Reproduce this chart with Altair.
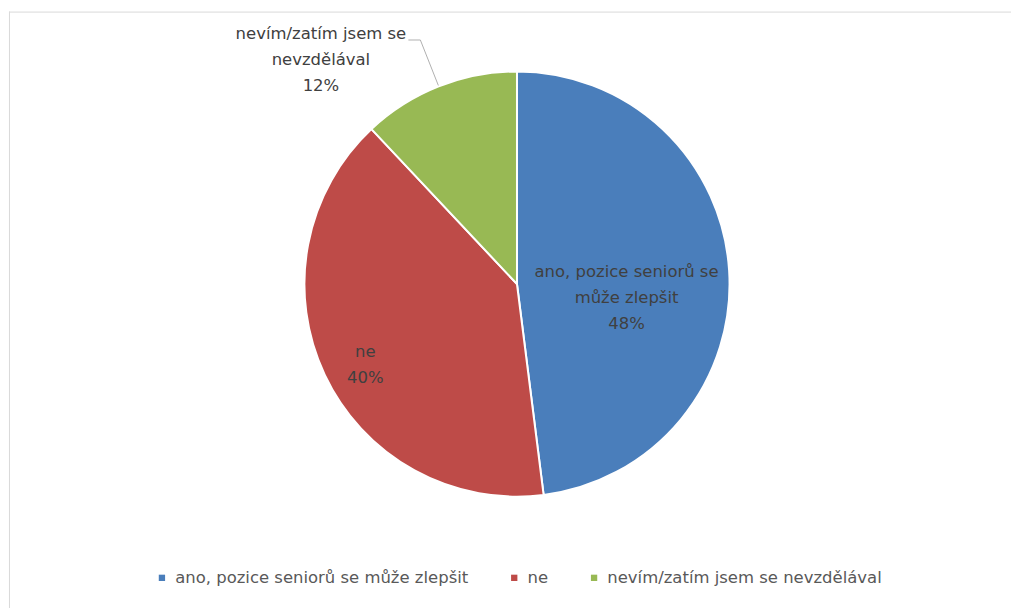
import altair as alt
import pandas as pd
import numpy as np

# ---- data ----
categories = ["ano, pozice seniorů se může zlepšit", "ne", "nevím/zatím jsem se nevzdělával"]
shares = [48, 40, 12]
label_text = ["ano, pozice seniorů se\nmůže zlepšit", "ne", "nevím/zatím jsem se\nnevzdělával"]

# ---- styling ----
colors = ["#4a7ebb", "#be4b48", "#98b954"]
FONT = "DejaVu Sans"
FS = 16.5
LH = 26
W, H = 1004, 598
CX, CY, R = 509, 273, 213
LABEL_R = [110, 168, 262]
LABEL_OFF = [(0, 21), (0, 10), (-100, 19)]

total = float(sum(shares))
cum = np.cumsum(shares)
mid = (cum - np.array(shares) / 2.0) / total * 2 * np.pi

df = pd.DataFrame({"cat": categories, "value": shares, "order": list(range(len(shares)))})
df["label"] = [f"{t}\n{v}%" for t, v in zip(label_text, shares)]
nlines = [s.count("\n") + 1 for s in df["label"]]
df["lx"] = [CX + r * np.sin(m) + o[0] for r, m, o in zip(LABEL_R, mid, LABEL_OFF)]
df["ly"] = [CY - r * np.cos(m) + o[1] - (n - 1) * LH / 2.0
            for r, m, o, n in zip(LABEL_R, mid, LABEL_OFF, nlines)]

# leader line for the outside label (last slice)
m = mid[-1]
lead = pd.DataFrame({
    "x": [CX + (R + 1) * np.sin(m), CX + (R + 50) * np.sin(m)],
    "y": [CY - (R + 1) * np.cos(m), CY - (R + 50) * np.cos(m)],
    "x2": [CX + (R + 50) * np.sin(m), CX + (R + 50) * np.sin(m) - 12],
    "y2": [CY - (R + 50) * np.cos(m), CY - (R + 50) * np.cos(m)],
})

color_scale = alt.Scale(domain=categories, range=colors)

pie = alt.Chart(df).mark_arc(radius=R, stroke="white", strokeWidth=2).encode(
    theta=alt.Theta("value:Q", stack=True),
    order=alt.Order("order:Q"),
    color=alt.Color("cat:N", scale=color_scale, sort=categories,
                    legend=alt.Legend(title=None, orient="none", legendX=145, legendY=559,
                                      direction="horizontal", symbolType="square",
                                      symbolSize=40, symbolStrokeWidth=0,
                                      columnPadding=37, labelOffset=5,
                                      labelFontSize=FS, labelFont=FONT,
                                      labelColor="#595959", labelLimit=450)),
    x=alt.value(CX), y=alt.value(CY),
)

labels = alt.Chart(df).mark_text(
    font=FONT, fontSize=FS, color="#404040", lineBreak="\n", lineHeight=LH,
    align="center", baseline="middle",
).encode(
    x=alt.X("lx:Q", scale=None), y=alt.Y("ly:Q", scale=None), text="label:N"
)

leader = alt.Chart(lead).mark_rule(color="#b0b0b0", strokeWidth=1).encode(
    x=alt.X("x:Q", scale=None), y=alt.Y("y:Q", scale=None),
    x2="x2:Q", y2="y2:Q",
)

frame_top = alt.Chart(pd.DataFrame({"a": [0]})).mark_rule(color="#d9d9d9", strokeWidth=1).encode(
    x=alt.value(0), x2=alt.value(W), y=alt.value(0.5))
frame_left = alt.Chart(pd.DataFrame({"a": [0]})).mark_rule(color="#d9d9d9", strokeWidth=1).encode(
    x=alt.value(0.5), y=alt.value(0), y2=alt.value(H))

chart = alt.layer(frame_top, frame_left, pie, leader, labels).properties(
    width=W, height=H, padding={"left": 8, "top": 10, "right": 0, "bottom": 0},
    background="white",
).configure_view(stroke=None)

chart.save("out.html", embed_options={"renderer": "svg", "actions": False})
